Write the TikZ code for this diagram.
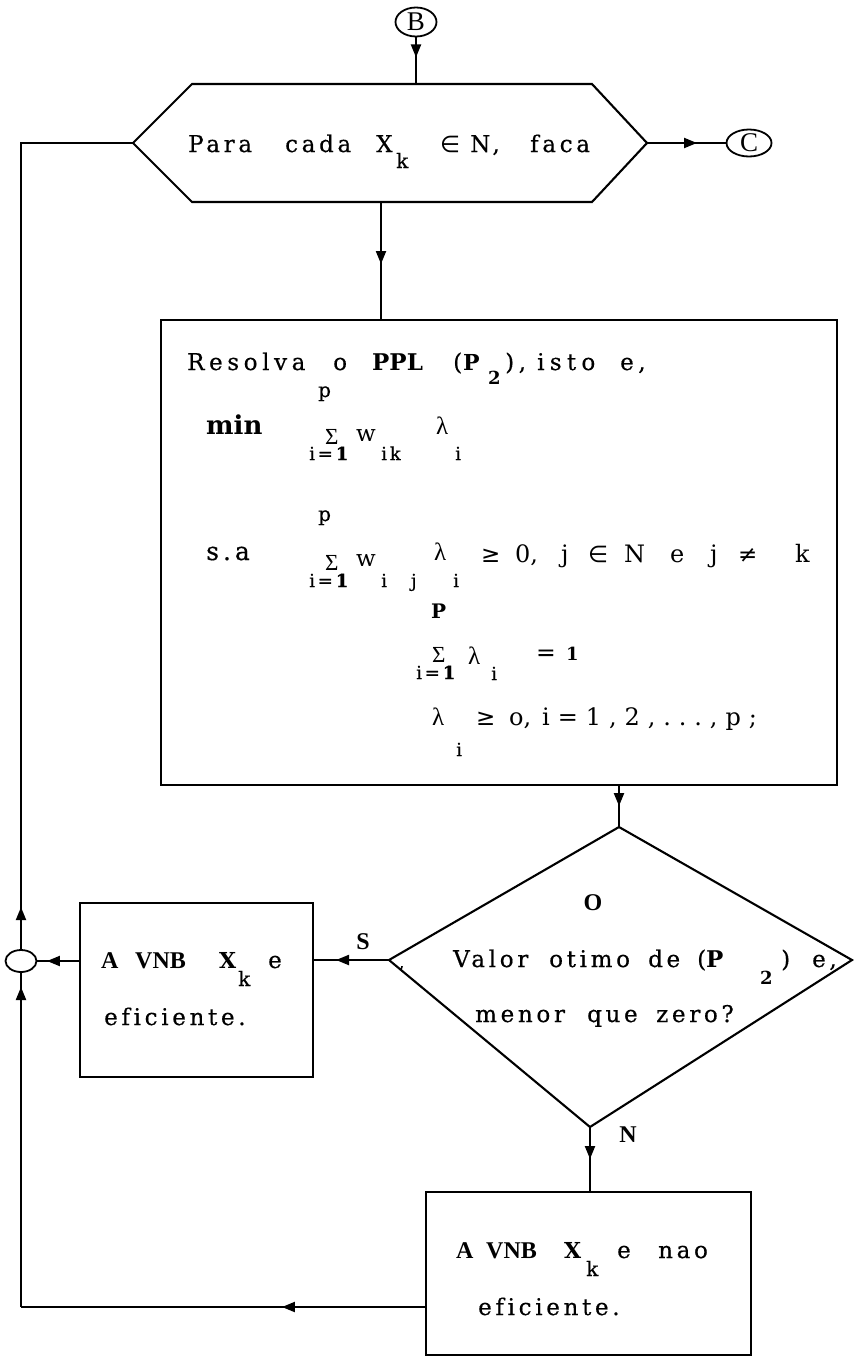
\documentclass[tikz,border=0pt]{standalone}
\usepackage{fontspec}
\newfontfamily\twf{DejaVu Serif}[LetterSpace=16,WordSpace=2.8,Ligatures=CommonOff,FakeBold=0.5]
\newfontfamily\lnf{DejaVu Serif}[LetterSpace=20,Ligatures=CommonOff,FakeBold=0.5]
\newfontfamily\dbf{DejaVu Serif}[Ligatures=CommonOff]
\newfontfamily\hdf{Liberation Serif}
\newfontfamily\symf{DejaVu Sans}
\usetikzlibrary{shapes.geometric,decorations.markings,arrows.meta}
\newcommand\sz[1]{\fontsize{#1}{#1}\selectfont}

\tikzset{
  conn/.style={line width=2.1pt},
  tipat/.style={postaction={decorate},
    decoration={markings,mark=at position #1 with {\arrow{Triangle[length=13pt,width=10pt]}}}},
  box/.style={draw,line width=2.1pt,inner sep=0pt},
  oval/.style={draw,ellipse,line width=1.8pt,inner sep=0pt,font=\hdf\sz{27}},
  t/.style={anchor=base west,inner sep=0pt,font=\twf\sz{23}},
  tl/.style={anchor=base west,inner sep=0pt,font=\lnf\sz{23}},
  ts/.style={anchor=base west,inner sep=0pt,font=\twf\sz{18}},
  tb/.style={anchor=base west,inner sep=0pt,font=\dbf\bfseries\sz{22}},
  hb/.style={anchor=base west,inner sep=0pt,font=\hdf\bfseries\sz{24}},
  gr/.style={anchor=base west,inner sep=0pt,font=\hdf\sz{25}},
  sy/.style={anchor=base west,inner sep=0pt,font=\symf\sz{23}},
  rm/.style={anchor=base west,inner sep=0pt,font=\dbf\sz{24}},
  lbl/.style={anchor=center,inner sep=0pt,font=\hdf\bfseries\sz{24}},
}

\begin{document}
\begin{tikzpicture}[x=1pt,y=-1pt]
\useasboundingbox (0,0) rectangle (854,1363);

% ---------- off-page connectors ----------
\node[oval,minimum width=41pt,minimum height=29pt] (B) at (416,22) {B};
\node[oval,minimum width=45pt,minimum height=27pt] (C) at (749,143) {C};

% ---------- loop header (hexagon) ----------
\coordinate (hl)  at (133,143);
\coordinate (htl) at (192,84);
\coordinate (htr) at (592,84);
\coordinate (hr)  at (647,143);
\coordinate (hbr) at (592,202);
\coordinate (hbl) at (192,202);
\coordinate (htop) at (416,84);
\coordinate (hbot) at (381,202);
\draw[conn,line join=miter] (hl) -- (htl) -- (htr) -- (hr) -- (hbr) -- (hbl) -- cycle;
\node[t] (h1) at (188,152) {Para};
\node[t] (h2) at (285,152) {cada};
\node[t] (h3) at (376,152) {X};
\node[t,font=\twf\sz{20}] (h4) at (396,168) {k};
\node[sy] (h5) at (440,152) {∈};
\node[t] (h6) at (470,152) {N,};
\node[t] (h7) at (530,152) {faca};

% ---------- linear programme box ----------
\node[box,minimum width=676pt,minimum height=465pt] (ppl) at (499,552.5) {};
\node[tl] (r1) at (187,370) {Resolva};
\node[tl] (r1b) at (333,370) {o};
\node[tb,font=\dbf\bfseries\sz{23}] (r2) at (372,370) {PPL};
\node[tl] (r3) at (453,370) {(};
\node[tb] (r4) at (463,370) {P};
\node[tb,font=\dbf\bfseries\sz{18}] (r5) at (488,384) {2};
\node[tl] (r6) at (505,370) {),};
\node[tl,font=\lnf\sz{23}\addfontfeature{LetterSpace=23}] (r7) at (537,370) {isto};
\node[tl] (r8) at (620,370) {e,};

% objective row
\node[tb,font=\dbf\bfseries\sz{26}] (mn) at (206,434) {min};
\node[ts,font=\twf\sz{20}] (p1) at (318,397) {p};
\node[gr,font=\hdf\sz{23}] (s1) at (325,444) {Σ};
\node[ts] (i1) at (309,460) {i=\textbf{1}};
\node[rm,font=\dbf\sz{23}] (w1) at (356,441) {w};
\node[ts] (k1) at (381,460) {ik};
\node[gr] (l1) at (436,434) {λ};
\node[ts] (l1i) at (455,460) {i};

% first constraint row
\node[t,font=\twf\sz{25}] (sa) at (206,560) {s.a};
\node[ts,font=\twf\sz{20}] (p2) at (318,521) {p};
\node[gr,font=\hdf\sz{23}] (s2) at (325,570) {Σ};
\node[ts] (i2) at (309,587) {i=\textbf{1}};
\node[rm,font=\dbf\sz{23}] (w2) at (356,566) {w};
\node[ts] (k2) at (381,587) {i j};
\node[gr] (l2) at (434,560) {λ};
\node[ts] (l2i) at (453,587) {i};
\node[sy] (c1) at (481,562) {≥};
\node[rm] (c2) at (515,562) {0,};
\node[rm] (c3) at (561,562) {j};
\node[sy] (c4) at (588,562) {∈};
\node[rm] (c5) at (624,562) {N};
\node[rm] (c6) at (670,562) {e};
\node[rm] (c7) at (710,562) {j};
\node[sy] (c8) at (738,562) {≠};
\node[rm] (c9) at (795,562) {k};

% second constraint row
\node[tb,font=\dbf\bfseries\sz{20}] (p3) at (431,618) {P};
\node[gr,font=\hdf\sz{23}] (s3) at (432,662) {Σ};
\node[ts] (i3) at (416,679) {i=\textbf{1}};
\node[gr] (l3) at (468,664) {λ};
\node[ts] (l3i) at (491,680) {i};
\node[t] (e3) at (536,660) {=};
\node[tb,font=\dbf\bfseries\sz{18}] (o3) at (566,660) {1};

% sign row
\node[gr] (l4) at (432,725) {λ};
\node[ts] (l4i) at (456,756) {i};
\node[sy] (g4) at (476,725) {≥};
\node[rm] (o4) at (509,725) {o,};
\node[rm,font=\dbf\sz{24}\addfontfeature{LetterSpace=33}] (n4) at (542,725) {i=1,2,...,p;};

% ---------- decision ----------
\coordinate (dt) at (619,827);
\coordinate (dl) at (389,960);
\coordinate (dr) at (852,960);
\coordinate (db) at (590,1127);
\draw[conn,line join=miter] (dt) -- (dr) -- (db) -- (dl) -- cycle;
\node[lbl] (dO) at (593,903) {O};
\node[t] (q1) at (453,967) {Valor};
\node[t] (q2) at (549,967) {otimo};
\node[t] (q3) at (648,967) {de};
\node[t] (q4) at (697,967) {({\dbf\bfseries P}};
\node[tb,font=\dbf\bfseries\sz{18}] (q5) at (760,984) {2};
\node[t] (q6) at (781,967) {)};
\node[t] (q7) at (812,967) {e,};
\node[t] (m1) at (475,1022) {menor};
\node[t] (m2) at (587,1022) {que};
\node[t] (m3) at (656,1022) {zero?};
\node[t,font=\twf\sz{16}] (dcm) at (399,968) {,};
\node[lbl] (yes) at (363,942) {S};
\node[lbl] (no) at (628,1135) {N};

% ---------- outcome boxes ----------
\node[box,minimum width=233pt,minimum height=174pt] (b1) at (196.5,990) {};
\node[hb] (a1) at (101,968) {A};
\node[hb] (a2) at (135,968) {VNB};
\node[tb] (a3) at (219,968) {X};
\node[t,font=\twf\sz{20}] (a4) at (238,986) {k};
\node[t] (a5) at (268,968) {e};
\node[t] (a6) at (104,1025) {eficiente.};

\node[box,minimum width=325pt,minimum height=163pt] (b2) at (588.5,1273.5) {};
\node[hb] (n1) at (456,1258) {A};
\node[hb] (n2) at (486,1258) {VNB};
\node[tb] (n3) at (564,1258) {X};
\node[t,font=\twf\sz{20}] (n4k) at (586,1276) {k};
\node[t] (n5) at (617,1258) {e};
\node[t] (n6) at (658,1258) {nao};
\node[t] (n7) at (478,1315) {eficiente.};

% ---------- junction ----------
\node[oval,minimum width=31pt,minimum height=22pt] (jn) at (21,961) {};
\coordinate (crnt) at (21,143);
\coordinate (crnb) at (21,1307);

% ---------- flow lines ----------
\draw[conn,tipat=20pt] (B.south) -- (htop);
\draw[conn,tipat=50pt] (hr) -- (C.west);
\draw[conn,tipat=62pt] (hbot) -- (hbot |- ppl.north);
\draw[conn,tipat=20pt] (ppl.south -| dt) -- (dt);
\draw[conn,tipat=53pt] (dl) -- (dl -| b1.east);
\draw[conn,tipat=32pt] (b1.west |- jn) -- (jn.east);
\draw[conn,tipat=32pt] (db) -- (db |- b2.north);
\draw[conn,tipat=143pt] (b2.west |- crnb) -- (crnb);
\draw[conn,tipat=320pt] (crnb) -- (jn.south);
\draw[conn,tipat=42pt] (jn.north) -- (crnt) -- (hl);
\end{tikzpicture}
\end{document}
